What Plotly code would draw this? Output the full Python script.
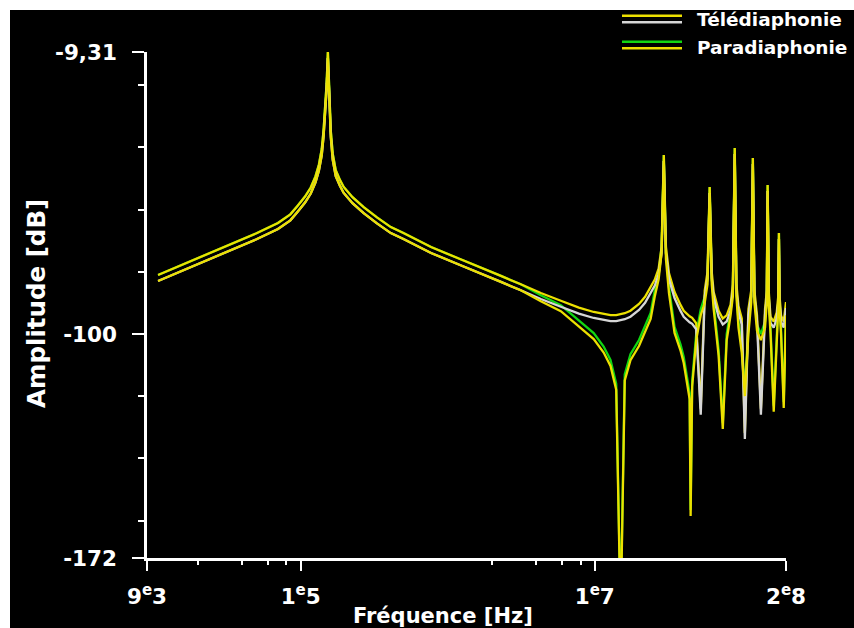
import math
import plotly.graph_objects as go

# ---------------- data ----------------
freq_hz = [1.07e4, 2.5e4, 5.0e4, 7.0e4, 8.5e4, 9.5e4, 1.07e5, 1.17e5, 1.26e5, 1.33e5,
           1.39e5, 1.43e5, 1.47e5, 1.50e5, 1.53e5, 1.555e5, 1.575e5, 1.60e5, 1.65e5, 1.73e5,
           1.85e5, 1.96e5, 2.25e5, 2.68e5, 3.3e5, 4.1e5, 5.0e5, 7.7e5, 1.2e6, 1.67e6,
           2.3e6, 3.14e6, 4.3e6, 5.88e6, 7.8e6, 9.84e6, 1.15e7, 1.28e7, 1.4e7, 1.5e7,
           1.6e7, 1.75e7, 2.0e7, 2.2e7, 2.4e7, 2.56e7, 2.72e7, 2.85e7, 2.95e7, 3.05e7,
           3.2e7, 3.49e7, 3.84e7, 4.03e7, 4.42e7, 4.49e7, 4.6e7, 4.9e7, 5.26e7, 5.6e7,
           5.85e7, 6.05e7, 6.25e7, 6.44e7, 6.96e7, 7.43e7, 7.9e7, 8.4e7, 8.7e7, 8.96e7,
           9.2e7, 9.5e7, 1.0e8, 1.05e8, 1.11e8, 1.16e8, 1.19e8, 1.22e8, 1.27e8, 1.35e8,
           1.44e8, 1.48e8, 1.5e8, 1.53e8, 1.57e8, 1.65e8, 1.73e8, 1.77e8, 1.79e8, 1.81e8,
           1.85e8, 1.93e8, 2.0e8]

telediaphonie_db = [-81.0, -73.6, -67.6, -64.3, -61.5, -58.8, -55.8, -52.9, -49.3, -45.5,
                    -40.5, -34.5, -27.5, -19.5, -9.31, -19.5, -27.5, -34.5, -42.0, -47.3,
                    -50.5, -52.7, -56.0, -59.2, -62.5, -65.6, -67.5, -72.0, -75.8, -78.5,
                    -81.3, -84.0, -86.8, -89.3, -91.5, -92.9, -93.6, -93.9, -93.9, -93.7,
                    -93.3, -92.5, -90.3, -88.0, -85.0, -82.5, -79.0, -72.0, -42.4, -72.0,
                    -80.5, -86.5, -90.7, -92.5, -94.3, -94.5, -94.8, -96.5, -124.0, -86.0,
                    -80.0, -52.7, -80.0, -86.5, -92.5, -95.0, -94.0, -90.5, -84.0, -40.2,
                    -84.0, -91.0, -95.0, -131.8, -92.0, -86.0, -43.4, -86.0, -94.0, -124.0,
                    -92.0, -86.0, -52.1, -87.0, -94.5, -96.0, -93.0, -88.0, -67.5, -88.0,
                    -94.0, -96.0, -89.7]

paradiaphonie_db = [-81.0, -73.6, -67.6, -64.3, -61.5, -58.8, -55.8, -52.9, -49.3, -45.5,
                    -40.5, -34.5, -27.5, -19.5, -9.31, -19.5, -27.5, -34.5, -42.0, -47.3,
                    -50.5, -52.7, -56.0, -59.2, -62.5, -65.6, -67.5, -72.0, -75.8, -78.5,
                    -81.3, -84.0, -87.5, -90.7, -95.5, -99.7, -104.0, -108.3, -116.0, -190.0,
                    -113.0, -106.5, -101.9, -97.5, -93.2, -86.0, -80.5, -72.0, -42.4, -74.0,
                    -85.0, -97.7, -103.5, -107.4, -119.0, -156.6, -115.0, -100.0, -92.0, -88.0,
                    -82.0, -52.7, -82.0, -90.0, -105.0, -128.6, -100.0, -92.0, -86.0, -40.2,
                    -86.0, -96.0, -104.0, -118.0, -98.0, -88.0, -43.4, -88.0, -97.0, -100.0,
                    -96.0, -88.0, -52.1, -89.0, -98.0, -123.0, -100.0, -90.0, -67.5, -90.0,
                    -98.0, -121.8, -92.0]

series_names = ["Télédiaphonie", "Paradiaphonie"]
x_tickvals = [9e3, 1e5, 1e7, 2e8]
x_ticktext = ["9<sup>e</sup>3", "1<sup>e</sup>5", "1<sup>e</sup>7", "2<sup>e</sup>8"]
x_minor_ticks = [2e4, 4e4, 6e4, 8e4, 2e6, 4e6, 6e6, 8e6]
y_tickvals = [-9.31, -100, -172]
y_ticktext = ["-9,31", "-100", "-172"]
y_minor_ticks = [-20, -40, -60, -80, -120, -140, -160]
x_title = "Fréquence [Hz]"
y_title = "Amplitude [dB]"

# ---------------- style ----------------
W, H = 854, 628
L, R, T, B = 147, 68, 52, 70
YEL = "#ece000"
GRY = "#d6d6d6"
GRN = "#12d612"
FONT = "DejaVu Sans"
YMIN, YMAX = -172, -9.31
plot_h = H - T - B
shift_db = 6 * (YMAX - YMIN) / plot_h   # second stroke drawn 6 px lower


def px(xp):
    return (xp - L) / (W - L - R)


def py(yp):
    return (H - B - yp) / plot_h


fig = go.Figure()
lw = 2.3
fig.add_trace(go.Scatter(x=freq_hz, y=telediaphonie_db, mode="lines", yaxis="y2",
                         line=dict(color=GRY, width=lw), showlegend=False))
fig.add_trace(go.Scatter(x=freq_hz, y=paradiaphonie_db, mode="lines", yaxis="y2",
                         line=dict(color=YEL, width=lw), showlegend=False))
fig.add_trace(go.Scatter(x=freq_hz, y=paradiaphonie_db, mode="lines",
                         line=dict(color=GRN, width=lw), name=series_names[1], showlegend=False))
fig.add_trace(go.Scatter(x=freq_hz, y=telediaphonie_db, mode="lines",
                         line=dict(color=YEL, width=lw), name=series_names[0], showlegend=False))

tickfont = dict(family=FONT, size=21.5, color="white", weight="bold")
fig.update_layout(
    width=W, height=H,
    margin=dict(l=L, r=R, t=T, b=B, pad=0),
    paper_bgcolor="black", plot_bgcolor="black",
    showlegend=False,
    xaxis=dict(type="log", range=[math.log10(9e3), math.log10(2e8)],
               tickmode="array", tickvals=x_tickvals, ticktext=x_ticktext,
               ticks="outside", ticklen=10, tickwidth=2, tickcolor="white",
               showline=True, linecolor="white", linewidth=2.5, mirror=False,
               showgrid=False, zeroline=False, tickfont=tickfont, ticklabelstandoff=7,
               minor=dict(tickmode="array", tickvals=x_minor_ticks, ticks="outside",
                          ticklen=4, tickwidth=2, tickcolor="white", showgrid=False)),
    yaxis=dict(range=[YMIN, YMAX], tickmode="array", tickvals=y_tickvals, ticktext=y_ticktext,
               ticks="outside", ticklen=12, tickwidth=2, tickcolor="white",
               showline=True, linecolor="white", linewidth=2.5,
               showgrid=False, zeroline=False, tickfont=tickfont, ticklabelstandoff=11,
               minor=dict(tickmode="array", tickvals=y_minor_ticks, ticks="outside",
                          ticklen=6, tickwidth=2, tickcolor="white", showgrid=False)),
    yaxis2=dict(range=[YMIN + shift_db, YMAX + shift_db], overlaying="y", visible=False),
)

# axis titles
fig.add_annotation(text=x_title, xref="paper", yref="paper", x=px(443), y=py(616),
                   showarrow=False, font=dict(family=FONT, size=21, color="white", weight="bold"),
                   xanchor="center", yanchor="middle")
fig.add_annotation(text=y_title, xref="paper", yref="paper", x=px(36), y=py(304),
                   showarrow=False, textangle=-90,
                   font=dict(family=FONT, size=24.5, color="white", weight="bold"),
                   xanchor="center", yanchor="middle")

# legend (drawn by hand: two strokes per entry)
legend_rows = [(series_names[0], 20, [(YEL, 15.7), (GRY, 22.2)]),
               (series_names[1], 47, [(GRN, 41.8), (YEL, 48.2)])]
for name, yc, strokes in legend_rows:
    for col, ys in strokes:
        fig.add_shape(type="line", xref="paper", yref="paper", x0=px(622), x1=px(682),
                      y0=py(ys), y1=py(ys), line=dict(color=col, width=2.6))
    fig.add_annotation(text=name, xref="paper", yref="paper", x=px(695), y=py(yc),
                       showarrow=False, xanchor="left", yanchor="middle",
                       font=dict(family=FONT, size=18.5, color="white", weight="bold"))

# white frame strips (left and top)
fig.add_shape(type="rect", xref="paper", yref="paper", x0=px(0), x1=px(10), y0=py(H), y1=py(0),
              fillcolor="white", line=dict(width=0), layer="above")
fig.add_shape(type="rect", xref="paper", yref="paper", x0=px(0), x1=px(W), y0=py(10), y1=py(0),
              fillcolor="white", line=dict(width=0), layer="above")

fig.write_html("out.html")
